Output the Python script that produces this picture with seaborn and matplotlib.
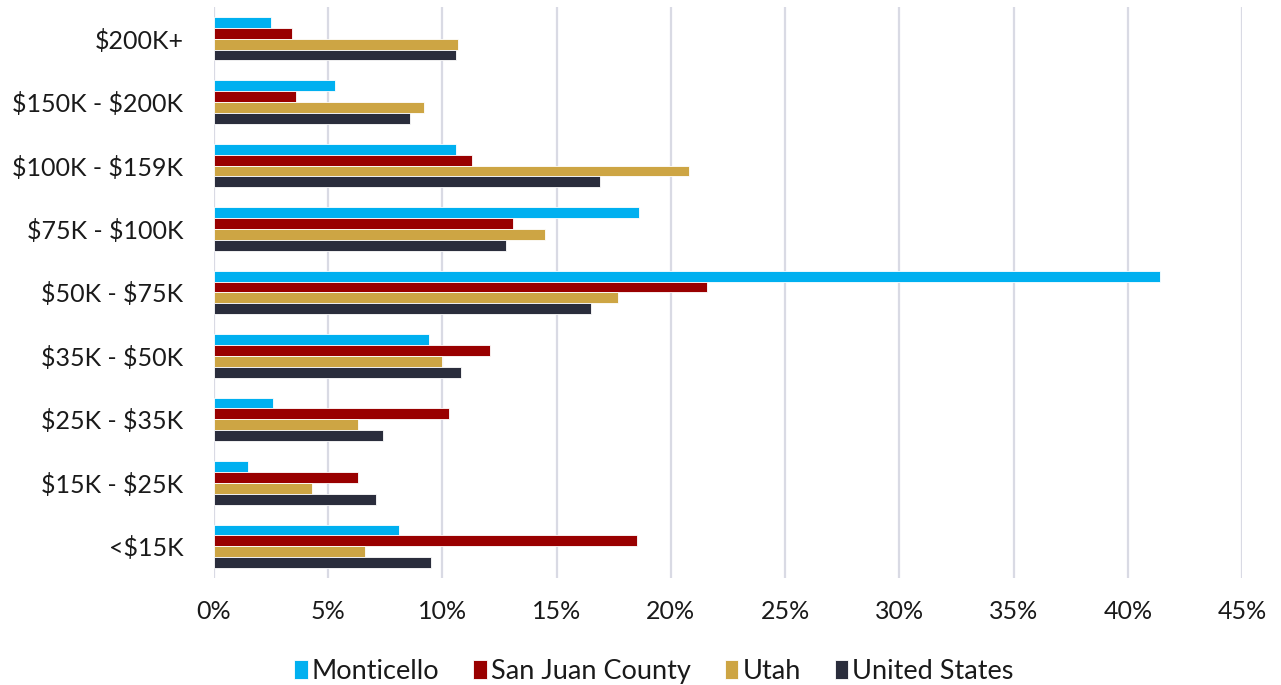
import matplotlib
matplotlib.use("Agg")
import matplotlib.pyplot as plt
import pandas as pd
import seaborn as sns
from matplotlib.ticker import PercentFormatter

brackets = ["$200K+", "$150K - $200K", "$100K - $159K", "$75K - $100K",
            "$50K - $75K", "$35K - $50K", "$25K - $35K", "$15K - $25K", "<$15K"]
areas = ["Monticello", "San Juan County", "Utah", "United States"]

monticello = [2.5, 5.3, 10.6, 18.6, 41.4, 9.4, 2.6, 1.5, 8.1]
san_juan = [3.4, 3.6, 11.3, 13.1, 21.6, 12.1, 10.3, 6.3, 18.5]
utah = [10.7, 9.2, 20.8, 14.5, 17.7, 10.0, 6.3, 4.3, 6.6]
united_states = [10.6, 8.6, 16.9, 12.8, 16.5, 10.8, 7.4, 7.1, 9.5]

colors = ["#00B0F0", "#990000", "#CDA544", "#2A2D3C"]

rows = []
for area, vals in zip(areas, [monticello, san_juan, utah, united_states]):
    for b, v in zip(brackets, vals):
        rows.append({"bracket": b, "area": area, "pct": v})
df = pd.DataFrame(rows)

sns.set_style("white")
plt.rcParams["font.family"] = ["Lato", "DejaVu Sans"]
plt.rcParams["text.parse_math"] = False

fig = plt.figure(figsize=(12.81, 6.85), dpi=100)
ax = fig.add_axes([0.167, 0.156, 0.8026, 0.834])

sns.barplot(data=df, y="bracket", x="pct", hue="area", order=brackets,
            hue_order=areas, palette=colors, saturation=1, orient="h",
            width=0.69, edgecolor="white", linewidth=0.6, ax=ax, zorder=3)

ax.set_xlim(0, 45)
ax.set_xticks(range(0, 46, 5))
ax.xaxis.set_major_formatter(PercentFormatter(decimals=0))
ax.grid(axis="x", color="#D9DAE4", linewidth=1.6, zorder=0)
ax.set_axisbelow(True)
for s in ax.spines.values():
    s.set_visible(False)
ax.set_xlabel("")
ax.set_ylabel("")
ax.tick_params(axis="both", length=0, labelsize=18, colors="#1A1A1A")
ax.tick_params(axis="y", pad=22)
ax.tick_params(axis="x", pad=16)

ax.legend(loc="upper center", bbox_to_anchor=(0.428, -0.098), ncol=4,
          frameon=False, fontsize=19.5, handlelength=0.5, handleheight=0.7,
          handletextpad=0.15, columnspacing=1.25, labelcolor="#1A1A1A")

fig.savefig("out.png", dpi=100)
